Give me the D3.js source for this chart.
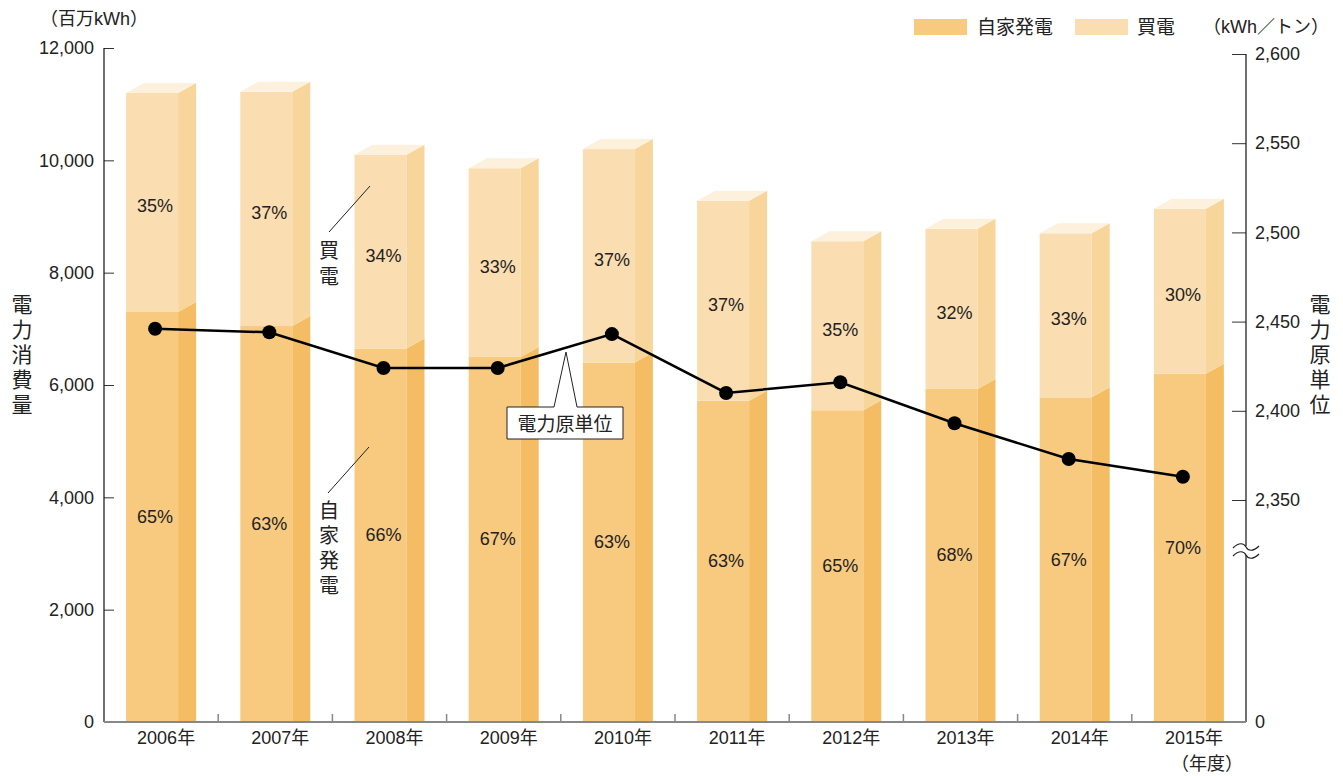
<!DOCTYPE html>
<html>
<head>
<meta charset="utf-8">
<script src="https://cdn.jsdelivr.net/npm/d3@7"></script>
<style>
  body { margin: 0; background: #fff; }
  svg text { font-family: "Liberation Sans", "Noto Sans CJK JP", sans-serif; fill: #222; }
</style>
</head>
<body>
<div id="chart"></div>
<script>
// data
var years = ["2006年", "2007年", "2008年", "2009年", "2010年", "2011年", "2012年", "2013年", "2014年", "2015年"];
var selfGen = [7300, 7050, 6650, 6500, 6400, 5720, 5550, 5930, 5780, 6200];
var bought = [3900, 4170, 3450, 3360, 3800, 3560, 3010, 2850, 2920, 2940];
var selfPct = ["65%", "63%", "66%", "67%", "63%", "63%", "65%", "68%", "67%", "70%"];
var boughtPct = ["35%", "37%", "34%", "33%", "37%", "37%", "35%", "32%", "33%", "30%"];
var intensity = [2446, 2444, 2424, 2424, 2443, 2410, 2416, 2393, 2373, 2363];
var leftTicks = [0, 2000, 4000, 6000, 8000, 10000, 12000];
var rightTicks = [2350, 2400, 2450, 2500, 2550, 2600];

var W = 1343, H = 776;
var x0 = 104, x1 = 1246, yBase = 722;
var frontW = 52, sideW = 18, depth = 10;

var cSelf = "#f8ca80", cSelfSide = "#f5bd63",
    cBuy = "#fadeb1", cBuySide = "#f8d59b", cTop = "#fdf1de";

var svg = d3.select("#chart").append("svg")
  .attr("width", W).attr("height", H);

var x = d3.scaleBand().domain(years).range([x0, x1]);
var yL = d3.scaleLinear().domain([0, 12000]).range([yBase, 48]);
var yR = d3.scaleLinear().domain([2350, 2600]).range([500, 54]);

var data = years.map(function(d, i) {
  return {year: d, self: selfGen[i], buy: bought[i], total: selfGen[i] + bought[i],
          sp: selfPct[i], bp: boughtPct[i], v: intensity[i]};
});

function fx(d) { return x(d.year) + (x.bandwidth() - frontW - sideW) / 2; }
function cx(d) { return fx(d) + frontW / 2 + 3; }
function poly(pts) { return "M" + pts.map(function(p) { return p.join(","); }).join("L") + "Z"; }

var bars = svg.append("g").selectAll("g").data(data).enter().append("g");

// self generation
bars.append("rect")
  .attr("x", fx).attr("y", function(d) { return yL(d.self); })
  .attr("width", frontW).attr("height", function(d) { return yBase - yL(d.self); })
  .attr("fill", cSelf);
bars.append("path")
  .attr("d", function(d) {
    var a = fx(d) + frontW, t = yL(d.self);
    return poly([[a, t], [a + sideW, t - depth], [a + sideW, yBase], [a, yBase]]);
  })
  .attr("fill", cSelfSide);

// purchased
bars.append("rect")
  .attr("x", fx).attr("y", function(d) { return yL(d.total); })
  .attr("width", frontW).attr("height", function(d) { return yL(d.self) - yL(d.total); })
  .attr("fill", cBuy);
bars.append("path")
  .attr("d", function(d) {
    var a = fx(d) + frontW, t = yL(d.total), b = yL(d.self);
    return poly([[a, t], [a + sideW, t - depth], [a + sideW, b - depth], [a, b]]);
  })
  .attr("fill", cBuySide);
bars.append("path")
  .attr("d", function(d) {
    var a = fx(d), t = yL(d.total);
    return poly([[a, t], [a + frontW, t], [a + frontW + sideW, t - depth], [a + sideW, t - depth]]);
  })
  .attr("fill", cTop);

// percent labels
bars.append("text")
  .attr("x", cx).attr("y", function(d) { return (yL(d.self) + yBase) / 2 + 6; })
  .attr("text-anchor", "middle").style("font-size", "18px")
  .text(function(d) { return d.sp; });
bars.append("text")
  .attr("x", cx).attr("y", function(d) { return (yL(d.total) + yL(d.self)) / 2 + 10; })
  .attr("text-anchor", "middle").style("font-size", "18px")
  .text(function(d) { return d.bp; });

// left axis
var gL = svg.append("g")
  .attr("transform", "translate(" + x0 + ",0)")
  .call(d3.axisLeft(yL).tickValues(leftTicks).tickSize(-10).tickPadding(10).tickFormat(d3.format(",")));
gL.select(".domain").remove();
gL.selectAll("text").style("font-size", "18px").attr("fill", "#222");
gL.selectAll("line").attr("stroke", "#333");
svg.append("line").attr("x1", x0).attr("x2", x0).attr("y1", 48).attr("y2", yBase)
  .attr("stroke", "#111").attr("stroke-width", 1.2);

// right axis
var gR = svg.append("g")
  .attr("transform", "translate(" + x1 + ",0)")
  .call(d3.axisRight(yR).tickValues(rightTicks).tickSize(-14).tickPadding(9).tickFormat(d3.format(",")));
gR.select(".domain").remove();
gR.selectAll("text").style("font-size", "18px").attr("fill", "#222");
gR.selectAll("line").attr("stroke", "#333");
svg.append("line").attr("x1", x1).attr("x2", x1).attr("y1", 54).attr("y2", yBase)
  .attr("stroke", "#111").attr("stroke-width", 1.2);
svg.append("text").attr("x", x1 + 9).attr("y", yBase + 6).style("font-size", "18px").text("0");

// axis break
var brk = svg.append("g").attr("transform", "translate(" + x1 + ",551)");
brk.append("rect").attr("x", -14).attr("y", -5).attr("width", 28).attr("height", 9).attr("fill", "#fff");
[-4, 4].forEach(function(o) {
  brk.append("path")
    .attr("d", "M-13," + (o + 1) + " C-7," + (o - 5) + " -2," + (o - 4) + " 0," + o +
               " S7," + (o + 5) + " 13," + (o - 1))
    .attr("fill", "none").attr("stroke", "#222").attr("stroke-width", 1.2);
});

// x axis
var gX = svg.append("g")
  .attr("transform", "translate(0," + yBase + ")")
  .call(d3.axisBottom(x).tickSize(0).tickPadding(9));
gX.select(".domain").remove();
gX.selectAll("text").style("font-size", "18px").attr("fill", "#222")
  .attr("dx", 5);
svg.append("line").attr("x1", x0).attr("x2", x1).attr("y1", yBase).attr("y2", yBase)
  .attr("stroke", "#888").attr("stroke-width", 2);
svg.append("g").selectAll("line").data(years.slice(1)).enter().append("line")
  .attr("x1", function(d) { return x(d); }).attr("x2", function(d) { return x(d); })
  .attr("y1", yBase).attr("y2", yBase - 8)
  .attr("stroke", "#888").attr("stroke-width", 1.5);
svg.append("text").attr("x", 1207).attr("y", 770).attr("text-anchor", "middle")
  .style("font-size", "18px").text("（年度）");

// intensity line
var line = d3.line().x(cx).y(function(d) { return yR(d.v); });
svg.append("path").datum(data)
  .attr("d", line).attr("fill", "none").attr("stroke", "#000").attr("stroke-width", 2.5);
svg.append("g").selectAll("circle").data(data).enter().append("circle")
  .attr("cx", cx).attr("cy", function(d) { return yR(d.v); })
  .attr("r", 7).attr("fill", "#000");

// callout for the line
svg.append("path")
  .attr("d", "M507,407 L554,407 L566,352 L577,407 L623,407 L623,439 L507,439 Z")
  .attr("fill", "#fff").attr("stroke", "#222").attr("stroke-width", 1);
svg.append("text").attr("x", 565).attr("y", 431).attr("text-anchor", "middle")
  .style("font-size", "19px").text("電力原単位");

// segment annotations
function vtext(str, xx, yy, size, step) {
  var g = svg.append("text").attr("text-anchor", "middle").style("font-size", size + "px");
  str.split("").forEach(function(ch, i) {
    g.append("tspan").attr("x", xx).attr("y", yy + i * step).text(ch);
  });
}
svg.append("line").attr("x1", 329).attr("y1", 232).attr("x2", 370).attr("y2", 186)
  .attr("stroke", "#222").attr("stroke-width", 1);
vtext("買電", 329, 258, 20, 26);
svg.append("line").attr("x1", 328).attr("y1", 493).attr("x2", 369).attr("y2", 447)
  .attr("stroke", "#222").attr("stroke-width", 1);
vtext("自家発電", 329, 518, 20, 25);

// axis titles
svg.append("text").attr("x", 40).attr("y", 25).style("font-size", "18px").text("（百万kWh）");
vtext("電力消費量", 22, 312, 21, 25);
vtext("電力原単位", 1320, 312, 21, 25);
svg.append("text").attr("x", 1203).attr("y", 33).style("font-size", "18px").text("（kWh／トン）");

// legend
svg.append("rect").attr("x", 914).attr("y", 19).attr("width", 53).attr("height", 16).attr("fill", cSelf);
svg.append("text").attr("x", 977).attr("y", 34).style("font-size", "19px").text("自家発電");
svg.append("rect").attr("x", 1075).attr("y", 19).attr("width", 53).attr("height", 16).attr("fill", cBuy);
svg.append("text").attr("x", 1137).attr("y", 34).style("font-size", "19px").text("買電");
</script>
</body>
</html>
